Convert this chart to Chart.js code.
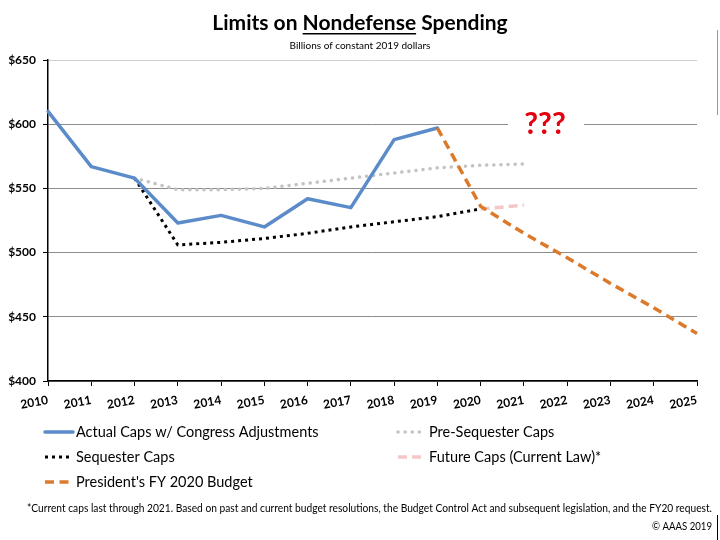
<!DOCTYPE html>
<html>
<head>
<meta charset="utf-8">
<script src="https://cdn.jsdelivr.net/npm/chart.js@4"></script>
<style>
html,body{margin:0;padding:0;background:#fff;}
#wrap{width:720px;height:540px;position:relative;}
</style>
</head>
<body>
<div id="wrap"><canvas id="c" width="720" height="540"></canvas></div>
<script>
const years = ['2010','2011','2012','2013','2014','2015','2016','2017','2018','2019','2020','2021','2022','2023','2024','2025'];
const actualCaps      = [610, 567, 558, 523, 529, 520, 542, 535, 588, 597, null, null, null, null, null, null];
const preSequesterCaps= [null, null, 558, 549, 549, 550, 554, 558, 562, 566, 568, 569, null, null, null, null];
const sequesterCaps   = [null, null, 558, 506, 508, 511, 515, 520, 524, 528, 534, null, null, null, null, null];
const futureCaps      = [null, null, null, null, null, null, null, null, null, null, 534, 537, null, null, null, null];
const presidentBudget = [null, null, null, null, null, null, null, null, null, 597, 536, 515, 496, 476, 457, 437];
const seriesLabels = ['Actual Caps w/ Congress Adjustments','Pre-Sequester Caps','Sequester Caps','Future Caps (Current Law)*',"President's FY 2020 Budget"];
const yTicks = [400, 450, 500, 550, 600, 650];
const titleParts = ['Limits on ', 'Nondefense', ' Spending'];
const subtitle = 'Billions of constant 2019 dollars';
const footnote = '*Current caps last through 2021. Based on past and current budget resolutions, the Budget Control Act and subsequent legislation, and the FY20 request.';
const copyright = '\u00A9 AAAS 2019';
const annotation = '???';

const FONT = 'Lato, "Open Sans", sans-serif';

function fitText(ctx, text, x, y, maxW, align) {
  const w = ctx.measureText(text).width;
  const s = w > maxW ? maxW / w : 1;
  ctx.save();
  let ox = x;
  if (align === 'center') ox = x - w * s / 2;
  else if (align === 'right') ox = x - w * s;
  ctx.translate(ox, y);
  ctx.scale(s, 1);
  ctx.textAlign = 'left';
  ctx.fillText(text, 0, 0);
  ctx.restore();
}

const decor = {
  id: 'decor',
  afterDraw(chart) {
    const ctx = chart.ctx;
    const ds = chart.data.datasets;
    ctx.save();
    // Title
    ctx.fillStyle = '#000';
    ctx.textBaseline = 'alphabetic';
    ctx.font = 'bold 21px ' + FONT;
    const full = titleParts.join('');
    const fw = ctx.measureText(full).width;
    const targetW = 313;
    const s = Math.min(1, targetW / fw);
    let x0 = 360 - fw * s / 2;
    ctx.save();
    ctx.translate(x0, 30);
    ctx.scale(s, 1);
    let cx = 0;
    titleParts.forEach((p, i) => {
      ctx.fillText(p, cx, 0);
      const pw = ctx.measureText(p).width;
      if (i === 1) {
        ctx.fillRect(cx, 3, pw, 1.5);
      }
      cx += pw;
    });
    ctx.restore();
    // Subtitle
    ctx.font = '10px ' + FONT;
    fitText(ctx, subtitle, 360, 49, 146, 'center');

    // ??? annotation
    const yS = chart.scales.y;
    const gy = yS.getPixelForValue(600);
    ctx.fillStyle = '#fff';
    ctx.fillRect(508, gy - 22, 76, 40);
    ctx.fillStyle = '#e3000f';
    ctx.font = 'bold 30px ' + FONT;
    ctx.textAlign = 'center';
    ctx.fillText(annotation, 545, 134);

    // Legend
    const rows = [
      {i:0, x:45, y:432}, {i:1, x:398, y:432},
      {i:2, x:45, y:457}, {i:3, x:398, y:457},
      {i:4, x:45, y:482}
    ];
    ctx.textAlign = 'left';
    ctx.textBaseline = 'middle';
    rows.forEach(r => {
      const d = ds[r.i];
      ctx.save();
      ctx.strokeStyle = d.borderColor;
      ctx.lineWidth = d.borderWidth;
      ctx.lineCap = d.borderCapStyle || 'butt';
      ctx.setLineDash(d.borderDash || []);
      ctx.beginPath();
      ctx.moveTo(r.x, r.y);
      ctx.lineTo(r.x + 28, r.y);
      ctx.stroke();
      ctx.restore();
      ctx.fillStyle = '#000';
      ctx.font = '14.5px ' + FONT;
      ctx.fillText(d.label, r.x + 31, r.y);
    });

    // Footnote
    ctx.textBaseline = 'middle';
    ctx.fillStyle = '#000';
    ctx.font = '10.5px ' + FONT;
    fitText(ctx, footnote, 27, 509, 685, 'left');
    fitText(ctx, copyright, 712, 527, 60, 'right');
    // side marks
    ctx.fillStyle = '#000';
    ctx.fillRect(717, 515, 1, 25);
    ctx.fillStyle = '#999';
    ctx.fillRect(717, 30, 1, 85);
    ctx.restore();
  }
};

const common = { fill: false, pointRadius: 0, pointHoverRadius: 0, tension: 0, spanGaps: false };

new Chart(document.getElementById('c'), {
  type: 'line',
  data: {
    labels: years,
    datasets: [
      Object.assign({ label: seriesLabels[0], data: actualCaps, borderColor: '#5b8bc9', borderWidth: 3.5, borderCapStyle: 'round', borderJoinStyle: 'round', order: 1 }, common),
      Object.assign({ label: seriesLabels[1], data: preSequesterCaps, borderColor: '#c3c3c3', borderWidth: 3.5, borderDash: [0.1, 7], borderCapStyle: 'round', order: 3 }, common),
      Object.assign({ label: seriesLabels[2], data: sequesterCaps, borderColor: '#000000', borderWidth: 3, borderDash: [3, 4], order: 2 }, common),
      Object.assign({ label: seriesLabels[3], data: futureCaps, borderColor: '#f2c8c8', borderWidth: 3.5, borderDash: [9, 5], order: 4 }, common),
      Object.assign({ label: seriesLabels[4], data: presidentBudget, borderColor: '#dc7a2c', borderWidth: 3.5, borderDash: [9, 5.5], order: 0 }, common)
    ]
  },
  options: {
    responsive: false,
    animation: false,
    events: [],
    layout: { padding: { left: 0, right: 23, top: 60, bottom: 129 } },
    plugins: { legend: { display: false }, title: { display: false }, tooltip: { enabled: false } },
    scales: {
      x: {
        type: 'category',
        offset: false,
        grid: { drawOnChartArea: false, drawTicks: true, tickColor: '#000', tickLength: 5, lineWidth: 1 },
        border: { color: '#000', width: 1.5 },
        ticks: { color: '#000', font: { family: FONT, size: 12, weight: 'bold' }, minRotation: 10, maxRotation: 10, autoSkip: false, padding: 7 },
        afterFit(scale) { scale.height = 30; }
      },
      y: {
        min: 400, max: 650,
        afterBuildTicks(scale) { scale.ticks = yTicks.map(v => ({ value: v })); },
        grid: { color: (c) => c.tick && c.tick.value === 650 ? '#d0d0d0' : '#8c8c8c', lineWidth: 1, tickColor: '#000', tickLength: 5, drawTicks: true },
        border: { color: '#000', width: 1.5 },
        ticks: { color: '#000', font: { family: FONT, size: 12, weight: 'bold' }, padding: 7, callback: v => '$' + v },
        afterFit(scale) { scale.width = 48; }
      }
    }
  },
  plugins: [decor]
});
</script>
</body>
</html>
